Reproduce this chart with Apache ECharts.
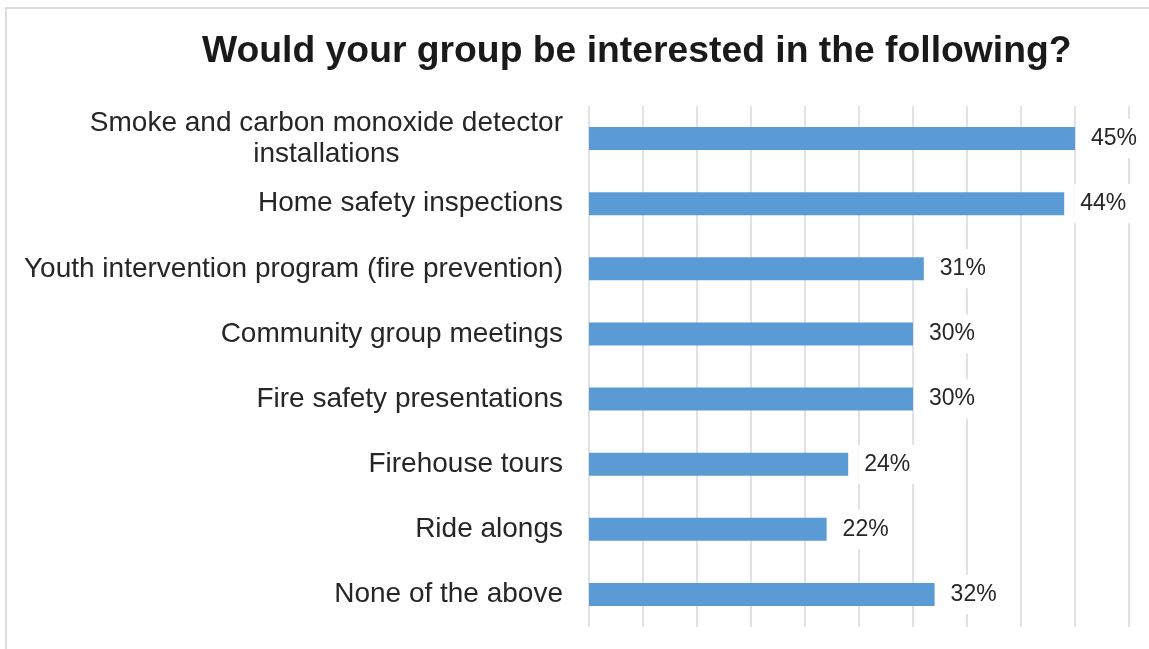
<!DOCTYPE html>
<html>
<head>
<meta charset="utf-8">
<style>
  html, body { margin: 0; padding: 0; background: #ffffff; }
  #chart { width: 1149px; height: 649px; }
</style>
<script src="https://cdn.jsdelivr.net/npm/echarts@6/dist/echarts.min.js"></script>
</head>
<body>
<div id="chart"></div>
<script>
// Survey answers, top to bottom
const categories = [
  'Smoke and carbon monoxide detector\ninstallations',
  'Home safety inspections',
  'Youth intervention program (fire prevention)',
  'Community group meetings',
  'Fire safety presentations',
  'Firehouse tours',
  'Ride alongs',
  'None of the above'
];
// Share of groups interested (%)
const interest = [45, 44, 31, 30, 30, 24, 22, 32];

const chartTitle = 'Would your group be interested in the following?';
const FONT = '"Liberation Sans", Arial, sans-serif';

const chart = echarts.init(document.getElementById('chart'), null, { renderer: 'canvas' });

chart.setOption({
  backgroundColor: '#ffffff',
  animation: false,
  title: {
    text: chartTitle,
    left: 202,
    top: 33,
    padding: 0,
    textStyle: {
      fontFamily: FONT,
      fontSize: 37.3,
      fontWeight: 'bold',
      color: '#1a1a1a'
    }
  },
  graphic: [{
    type: 'rect',
    shape: { x: 6, y: 8, width: 1200, height: 700 },
    style: { fill: 'none', stroke: '#dcdcdc', lineWidth: 2 },
    silent: true,
    z: -1
  }],
  grid: {
    left: 589,
    right: 20,
    top: 106,
    bottom: 22,
    containLabel: false
  },
  xAxis: {
    type: 'value',
    min: 0,
    max: 50,
    interval: 5,
    axisLine: { show: false },
    axisTick: { show: false },
    axisLabel: { show: false },
    splitLine: { show: true, lineStyle: { color: '#d9d9d9', width: 1.5 } }
  },
  yAxis: {
    type: 'category',
    data: categories,
    inverse: true,
    axisLine: { show: false },
    axisTick: { show: false },
    splitLine: { show: false },
    axisLabel: {
      margin: 26,
      fontFamily: FONT,
      fontSize: 28,
      color: '#262626',
      formatter: function (v) {
        return v.split('\n').map(function (s) { return '{c|' + s + '}'; }).join('\n');
      },
      rich: {
        c: {
          align: 'center',
          fontFamily: FONT,
          fontSize: 28,
          lineHeight: 31,
          color: '#262626'
        }
      }
    }
  },
  series: [{
    type: 'bar',
    data: interest,
    barWidth: 23,
    itemStyle: { color: '#5b9bd5' },
    label: {
      show: true,
      position: 'right',
      distance: 10,
      formatter: '{c}%',
      fontFamily: FONT,
      fontSize: 23,
      color: '#262626',
      backgroundColor: '#ffffff',
      padding: [8, 6]
    }
  }]
});
</script>
</body>
</html>
